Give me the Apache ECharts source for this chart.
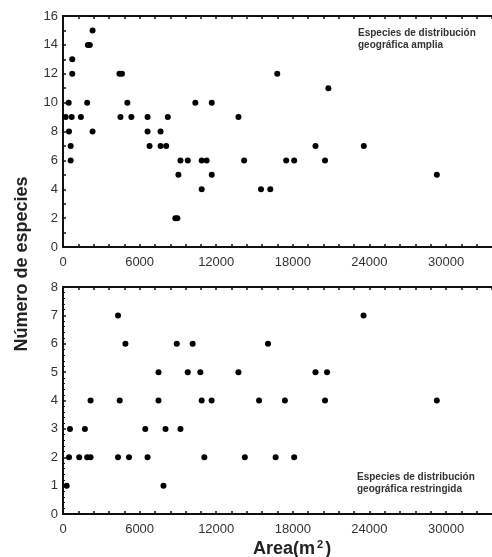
<!DOCTYPE html>
<html>
<head>
<meta charset="utf-8">
<script src="https://cdn.jsdelivr.net/npm/echarts@6/dist/echarts.min.js"></script>
<style>
html,body{margin:0;padding:0;background:#fff;}
#c{width:492px;height:557px;}
</style>
</head>
<body>
<div id="c"></div>
<script>
// Top panel: species of wide geographic distribution
var topArea = [2315,1950,2100,725,725,4420,4620,
  445,1895,5040,10365,11650,
  210,680,1400,4500,5355,6625,8210,13740,
  470,2315,6625,7640,
  600,6780,7640,8080,19775,23560,
  600,9200,9770,10860,11250,14185,17480,18105,20520,
  9040,11650,29280,
  10860,15510,16235,
  8800,8960,
  16780,20785];
var topSpecies = [15,14,14,13,12,12,12,
  10,10,10,10,10,
  9,9,9,9,9,9,9,9,
  8,8,8,8,
  7,7,7,7,7,7,
  6,6,6,6,6,6,6,6,6,
  5,5,5,
  4,4,4,
  2,2,
  12,11];
// Bottom panel: species of restricted geographic distribution
var botArea = [4310,23540,
  4890,8910,10155,16055,
  7480,9770,10755,13740,19775,20680,
  2160,4440,7480,10860,11640,15355,17380,20520,29280,
  545,1715,6445,8030,9200,
  470,1270,1895,2160,4310,5170,6625,11070,14240,16655,18105,
  290,7870];
var botSpecies = [7,7,
  6,6,6,6,
  5,5,5,5,5,5,
  4,4,4,4,4,4,4,4,4,
  3,3,3,3,3,
  2,2,2,2,2,2,2,2,2,2,2,
  1,1];
var xTickLabels = [0,6000,12000,18000,24000,30000];
var topYLabels = [0,2,4,6,8,10,12,14,16];
var botYLabels = [0,1,2,3,4,5,6,7,8];
var topNote = ['Especies de distribución','geográfica amplia'];
var botNote = ['Especies de distribución','geográfica restringida'];

function pairs(xs, ys){ return xs.map(function(x,i){return [x, ys[i]];}); }

var FONT = '"Liberation Sans", Arial, sans-serif';
var axisLineStyle = {show:true, lineStyle:{color:'#111', width:2}};
var tickStyle = {show:true, inside:true, length:3, lineStyle:{color:'#111', width:1.5}};

function xAxisDef(grid, pos, labels){
  return {
    type:'value', gridIndex:grid, position:pos, min:0, max:33600, interval:1200,
    axisLine:axisLineStyle, axisTick:tickStyle, splitLine:{show:false},
    axisLabel:{show:labels, margin:9, color:'#333', fontSize:13, fontFamily:FONT,
      showMaxLabel:false,
      formatter:function(v){ return xTickLabels.indexOf(v) >= 0 ? String(v) : ''; }}
  };
}

var option = {
  animation:false,
  backgroundColor:'#fff',
  grid:[
    {left:63, right:-2, top:16, bottom:310},
    {left:63, right:-2, top:287, bottom:43}
  ],
  xAxis:[
    xAxisDef(0,'bottom',true),
    xAxisDef(0,'top',false),
    xAxisDef(1,'bottom',true),
    xAxisDef(1,'top',false)
  ],
  yAxis:[
    {type:'value', gridIndex:0, min:0, max:16, interval:1,
      axisLine:axisLineStyle, axisTick:tickStyle, splitLine:{show:false},
      axisLabel:{margin:5, color:'#333', fontSize:13, fontFamily:FONT,
        formatter:function(v){ return topYLabels.indexOf(v) >= 0 ? String(v) : ''; }}},
    {type:'value', gridIndex:1, min:0, max:8, interval:1,
      axisLine:axisLineStyle, axisTick:tickStyle, splitLine:{show:false},
      minorTick:{show:true, splitNumber:5, length:2, lineStyle:{color:'#111', width:1}},
      axisLabel:{margin:5, color:'#333', fontSize:13, fontFamily:FONT,
        formatter:function(v){ return botYLabels.indexOf(v) >= 0 ? String(v) : ''; }}}
  ],
  series:[
    {type:'scatter', xAxisIndex:0, yAxisIndex:0, data:pairs(topArea, topSpecies),
      symbol:'circle', symbolSize:6, itemStyle:{color:'#000', opacity:1}, clip:false},
    {type:'scatter', xAxisIndex:2, yAxisIndex:1, data:pairs(botArea, botSpecies),
      symbol:'circle', symbolSize:6, itemStyle:{color:'#000', opacity:1}, clip:false}
  ],
  graphic:[
    {type:'text', left:358, top:27, style:{text:topNote.join('\n'), fill:'#333',
      font:'bold 10px ' + FONT, lineHeight:12}},
    {type:'text', left:357, top:471, style:{text:botNote.join('\n'), fill:'#333',
      font:'bold 10px ' + FONT, lineHeight:12}},
    {type:'text', x:22, y:264, rotation:Math.PI/2,
      style:{text:'Número de especies', fill:'#222', font:'bold 18px ' + FONT,
        align:'center', verticalAlign:'middle'}},
    {type:'text', x:253, y:549,
      style:{text:'{a|Area(m}{s|2}{a|)}', fill:'#222', verticalAlign:'middle', align:'left',
        rich:{a:{font:'bold 18px ' + FONT, fill:'#222'},
              s:{font:'bold 11px ' + FONT, fill:'#222', verticalAlign:'top', padding:[0,2,8,2]}}}}
  ]
};
echarts.init(document.getElementById('c')).setOption(option);
</script>
</body>
</html>
